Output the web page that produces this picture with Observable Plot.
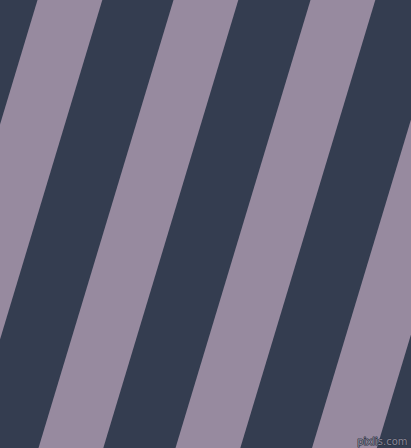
<!DOCTYPE html>
<html>
<head>
<meta charset="utf-8">
<script src="https://cdn.jsdelivr.net/npm/d3@7"></script>
<script src="https://cdn.jsdelivr.net/npm/@observablehq/plot@0.6"></script>
<style>
  html, body { margin: 0; padding: 0; background: #343d50; }
  #chart svg { display: block; }
</style>
</head>
<body>
<div id="chart"></div>
<script>
// Pattern data (units: along the top edge of the picture)
const stripeStarts = [37.5, 173.5, 310.5, 447];   // left edge of each light band at the top
const stripeWidth = 64.8;                          // band width measured horizontally
const drift = 135;                                 // horizontal drift of a band from top to bottom
const extentX = [0, 411];
const extentY = [0, 448];
const darkColor = "#343d50";
const lightColor = "#978a9f";
const watermark = ["pixlis.com"];

const rows = stripeStarts.flatMap((s, i) => [
  {id: i, y: extentY[0], x1: s, x2: s + stripeWidth},
  {id: i, y: extentY[1], x1: s - drift, x2: s + stripeWidth - drift}
]);

const chart = Plot.plot({
  width: 411,
  height: 448,
  margin: 0,
  x: {domain: extentX, range: [0, 411], axis: null},
  y: {domain: extentY, range: [0, 448], axis: null},
  style: {background: darkColor},
  marks: [
    Plot.areaX(rows, {y: "y", x1: "x1", x2: "x2", z: "id", fill: lightColor, clip: true}),
    Plot.text(watermark, {
      frameAnchor: "bottom-right", dx: -4, dy: -4,
      fontSize: 10, fontFamily: "DejaVu Sans",
      fill: "#8a8796", stroke: "#2b3242", strokeWidth: 1.2, paintOrder: "stroke"
    })
  ]
});
document.getElementById("chart").append(chart);
</script>
</body>
</html>
